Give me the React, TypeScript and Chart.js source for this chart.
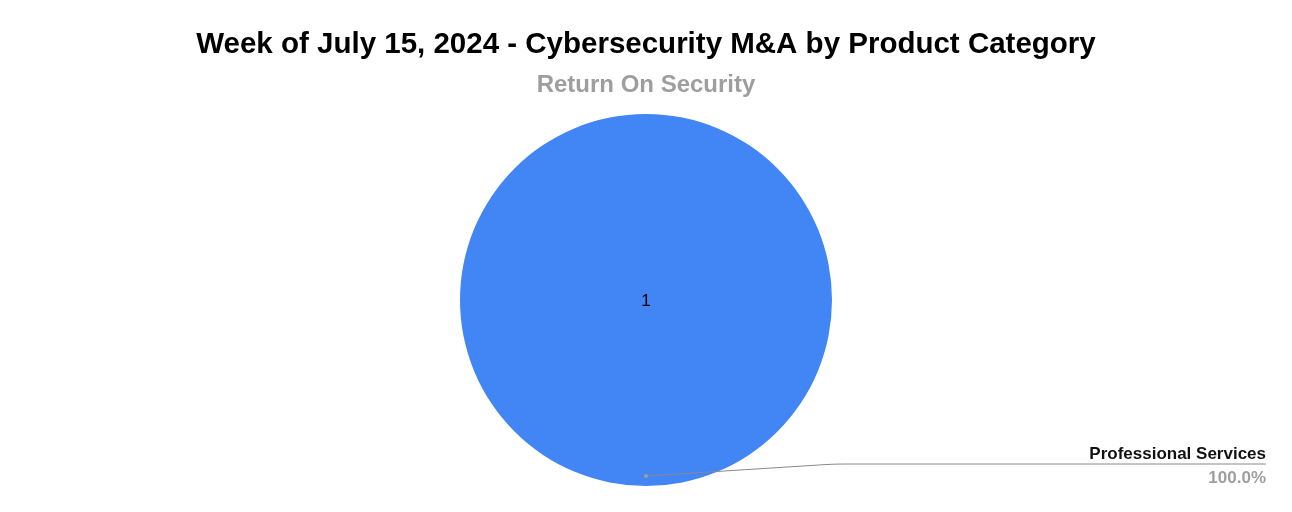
import React, { useEffect, useRef } from "react";
import { Chart, registerables } from "chart.js";

Chart.register(...registerables);

const categories = ["Professional Services"];
const values = [1];
const colors = ["#4285f4"];
const titleText = "Week of July 15, 2024 - Cybersecurity M&A by Product Category";
const subtitleText = "Return On Security";

const FONT = "'Liberation Sans', Arial, sans-serif";

const labelPlugin = {
  id: "pieLabels",
  afterDatasetsDraw(chart: any) {
    const ctx = chart.ctx;
    const meta = chart.getDatasetMeta(0);
    const total = values.reduce((a, b) => a + b, 0);
    meta.data.forEach((arc: any, i: number) => {
      const { x, y, startAngle, endAngle, outerRadius } = arc.getProps(
        ["x", "y", "startAngle", "endAngle", "outerRadius"],
        true
      );
      const mid = (startAngle + endAngle) / 2;
      ctx.save();
      ctx.fillStyle = "#000";
      ctx.font = `17px ${FONT}`;
      ctx.textAlign = "center";
      ctx.textBaseline = "middle";
      if (values.length === 1) {
        ctx.fillText(String(values[i]), x, y + 1);
      } else {
        ctx.fillText(String(values[i]), x + Math.cos(mid) * outerRadius * 0.6, y + Math.sin(mid) * outerRadius * 0.6);
      }
      // leader line
      const px = x + Math.cos(mid) * (outerRadius - 10);
      const py = y + Math.sin(mid) * (outerRadius - 10);
      const ex = x + outerRadius + 3;
      const ey = py - 12;
      const endX = chart.width - 26;
      ctx.strokeStyle = "#8a8a8a";
      ctx.lineWidth = 1;
      ctx.beginPath();
      ctx.moveTo(px, py);
      ctx.lineTo(ex - 10, ey + 0.6);
      ctx.quadraticCurveTo(ex, ey, ex + 10, ey);
      ctx.lineTo(endX, ey);
      ctx.stroke();
      ctx.fillStyle = "#9e9e9e";
      ctx.beginPath();
      ctx.arc(px, py, 2, 0, Math.PI * 2);
      ctx.fill();
      ctx.textAlign = "right";
      ctx.fillStyle = "#111";
      ctx.font = `bold 17px ${FONT}`;
      ctx.fillText(categories[i], endX, ey - 10);
      ctx.fillStyle = "#9e9e9e";
      ctx.font = `bold 17px ${FONT}`;
      ctx.fillText(((values[i] / total) * 100).toFixed(1) + "%", endX, ey + 14);
      ctx.restore();
    });
  },
};

export default function App() {
  const ref = useRef<HTMLCanvasElement>(null);
  useEffect(() => {
    if (!ref.current) return;
    const chart = new Chart(ref.current, {
      type: "pie",
      data: {
        labels: categories,
        datasets: [
          {
            data: values,
            backgroundColor: colors,
            borderWidth: 0,
          },
        ],
      },
      options: {
        responsive: false,
        animation: false,
        layout: { padding: { top: 0, bottom: 26, left: 0, right: 0 } },
        plugins: {
          legend: { display: false },
          tooltip: { enabled: false },
          title: {
            display: true,
            text: titleText,
            color: "#000",
            font: { family: FONT, size: 29.5, weight: "bold", lineHeight: 1.2 },
            padding: { top: 27.3, bottom: 8.4 },
          },
          subtitle: {
            display: true,
            text: subtitleText,
            color: "#9e9e9e",
            font: { family: FONT, size: 24, weight: "bold", lineHeight: 1.2 },
            padding: { top: 0, bottom: 14.1 },
          },
        },
      },
      plugins: [labelPlugin],
    });
    return () => chart.destroy();
  }, []);
  return (
    <div style={{ position: "fixed", left: 0, top: 0, width: 1292, height: 512, background: "#fff" }}>
      <canvas ref={ref} width={1292} height={512} style={{ display: "block" }} />
    </div>
  );
}
